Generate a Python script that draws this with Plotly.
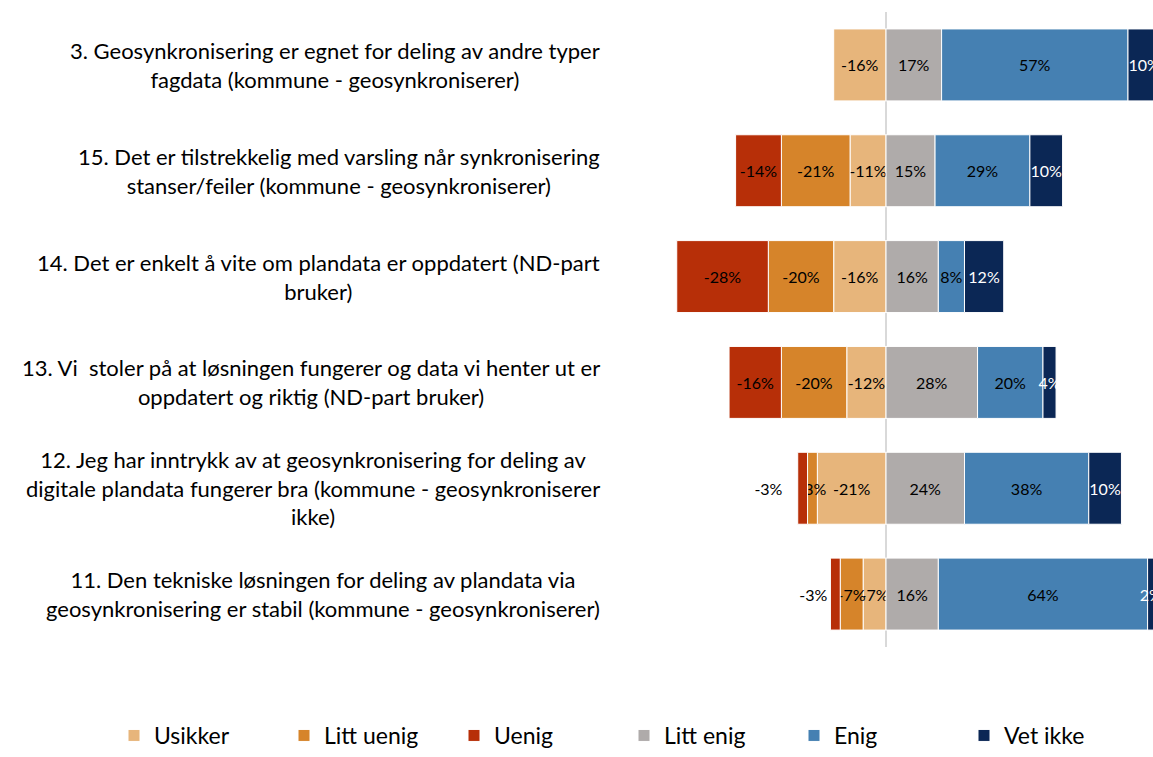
import plotly.graph_objects as go

# Questions, top to bottom
questions = [
    "3. Geosynkronisering er egnet for deling av andre typer<br>fagdata (kommune - geosynkroniserer)",
    "15. Det er tilstrekkelig med varsling når synkronisering<br>stanser/feiler (kommune - geosynkroniserer)",
    "14. Det er enkelt å vite om plandata er oppdatert (ND-part<br>bruker)",
    "13. Vi  stoler på at løsningen fungerer og data vi henter ut er<br>oppdatert og riktig (ND-part bruker)",
    "12. Jeg har inntrykk av at geosynkronisering for deling av<br>digitale plandata fungerer bra (kommune - geosynkroniserer<br>ikke)",
    "11. Den tekniske løsningen for deling av plandata via<br>geosynkronisering er stabil (kommune - geosynkroniserer)",
]

# Share of answers in percent (negative side = disagree / unsure)
usikker = [-16, -11, -16, -12, -21, -7]
litt_uenig = [None, -21, -20, -20, -3, -7]
uenig = [None, -14, -28, -16, -3, -3]
litt_enig = [17, 15, 16, 28, 24, 16]
enig = [57, 29, 8, 20, 38, 64]
vet_ikke = [10, 10, 12, 4, 10, 2]

SERIES = [
    ("Usikker", usikker, "#E7B57B", "black"),
    ("Litt uenig", litt_uenig, "#D6842A", "black"),
    ("Uenig", uenig, "#B72F08", "black"),
    ("Litt enig", litt_enig, "#AFABAA", "black"),
    ("Enig", enig, "#4580B2", "black"),
    ("Vet ikke", vet_ikke, "#0B2755", "white"),
]

FONT = "Lato, 'Open Sans', sans-serif"

fig = go.Figure()

for name, values, color, text_color in SERIES:
    labels = [f"{v}%" if v is not None else "" for v in values]  # plain hyphen, like the original
    # small "Uenig" segments in the two bottom rows get their label outside the bar
    if name == "Uenig":
        positions = ["inside"] * 4 + ["outside"] * 2
        labels[4] += "\u00a0" * 3  # nudged a bit further left in the original
    else:
        positions = "inside"
    fig.add_trace(go.Bar(
        y=questions,
        x=values,
        name=name,
        orientation="h",
        marker=dict(color=color, line=dict(color="white", width=1)),
        text=labels,
        textposition=positions,
        insidetextanchor="middle",
        textangle=0,
        constraintext="none",
        insidetextfont=dict(color=text_color, size=16, family=FONT),
        outsidetextfont=dict(color="black", size=16, family=FONT),
        hovertemplate="%{y}<br>" + name + ": %{x}%<extra></extra>",
    ))

# Question texts as centred multi-line annotations left of the plot
for q in questions:
    fig.add_annotation(
        x=0, xref="paper", xanchor="right", xshift=-10,
        y=q, yref="y",
        text=q, align="center", showarrow=False,
        font=dict(size=22, color="black", family=FONT),
    )

fig.update_layout(
    barmode="relative",
    bargap=0.32,
    width=1153,
    height=757,
    margin=dict(l=612, r=0, t=12, b=108),
    plot_bgcolor="white",
    paper_bgcolor="white",
    font=dict(family=FONT, color="black"),
    xaxis=dict(
        range=[-83.8, 81.65],
        showticklabels=False,
        showgrid=False,
        zeroline=True,
        zerolinecolor="#D9D9D9",
        zerolinewidth=2,
        fixedrange=True,
    ),
    yaxis=dict(
        type="category",
        autorange="reversed",
        showticklabels=False,
        showgrid=False,
        fixedrange=True,
    ),
    legend=dict(
        orientation="h",
        x=-0.9205,
        xanchor="left",
        y=-0.14,
        yanchor="middle",
        traceorder="normal",
        entrywidth=125,
        entrywidthmode="pixels",
        font=dict(size=23, family=FONT),
    ),
)

# the default page has an 8px body margin; drop it so the figure fills the window
fig.write_html("out.html", config={"displayModeBar": False},
               post_script="document.body.style.margin = '0';")
